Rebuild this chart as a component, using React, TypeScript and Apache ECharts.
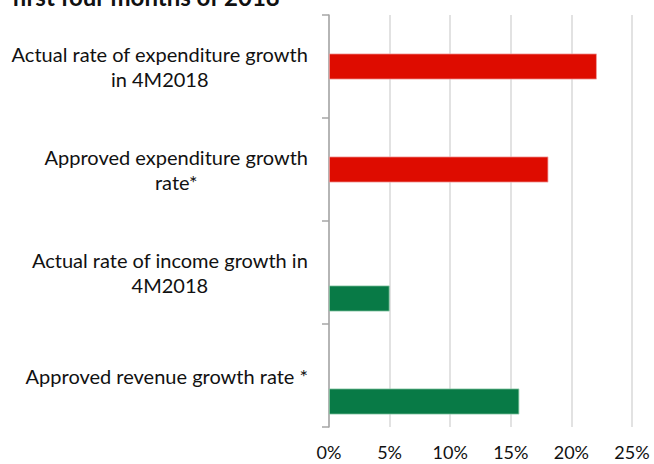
import React, { useEffect, useRef } from "react";
import * as echarts from "echarts";

const categories = [
  "Actual rate of expenditure growth\nin 4M2018",
  "Approved expenditure growth\nrate*",
  "Actual rate of income growth in\n4M2018",
  "Approved revenue growth rate *",
];
const emptySlot: (number | null)[] = [null, null, null, null];
const expenditureValues: (number | null)[] = [22.1, 18.1, null, null];
const revenueValues: (number | null)[] = [null, null, 5.0, 15.7];
const xTicks = { min: 0, max: 25, interval: 5 };
const titleText = "first four months of 2018";

const FONT = "Lato, 'Open Sans', sans-serif";

export default function App() {
  const ref = useRef<HTMLDivElement>(null);
  useEffect(() => {
    document.body.style.margin = "0";
    const chart = echarts.init(ref.current!, null, { renderer: "svg" });
    chart.setOption({
      animation: false,
      backgroundColor: "#ffffff",
      grid: { left: 329, right: 22, top: 15, bottom: 37, containLabel: false },
      graphic: [
        {
          type: "text",
          x: 12,
          y: -15.5,
          style: {
            text: titleText,
            font: `bold 24px ${FONT}`,
            fill: "#111111",
          },
        },
      ],
      xAxis: {
        type: "value",
        min: xTicks.min,
        max: xTicks.max,
        interval: xTicks.interval,
        axisLine: { show: false },
        axisTick: { show: false },
        splitLine: { show: true, lineStyle: { color: "#d9d9d9", width: 1.5 } },
        axisLabel: {
          formatter: "{value}%",
          fontFamily: FONT,
          fontSize: 18,
          color: "#111111",
          margin: 16,
        },
      },
      yAxis: {
        type: "category",
        inverse: true,
        data: categories,
        axisLine: { show: true, lineStyle: { color: "#a6a6a6", width: 1.5 } },
        axisTick: { show: true, length: 7, lineStyle: { color: "#a6a6a6", width: 1.5 } },
        splitLine: { show: false },
        axisLabel: {
          margin: 21,
          align: "right",
          formatter: (v: string) =>
            v
              .split("\n")
              .map((l) => `{c|${l}}`)
              .join("\n"),
          rich: {
            c: {
              align: "center",
              fontFamily: FONT,
              fontSize: 20,
              lineHeight: 25.5,
              color: "#111111",
            },
          },
        },
      },
      series: [
        {
          type: "bar",
          data: emptySlot,
          barWidth: 26,
          barGap: "0%",
        },
        {
          type: "bar",
          data: expenditureValues,
          barWidth: 26,
          barGap: "0%",
          itemStyle: { color: "#de0c00", borderColor: "#f0a0a0", borderWidth: 0.8 },
        },
        {
          type: "bar",
          data: revenueValues,
          barWidth: 26,
          barGap: "0%",
          itemStyle: { color: "#087a46", borderColor: "#8ec9a8", borderWidth: 0.8 },
        },
      ],
    });
    return () => chart.dispose();
  }, []);
  return <div ref={ref} style={{ width: 654, height: 464 }} />;
}
